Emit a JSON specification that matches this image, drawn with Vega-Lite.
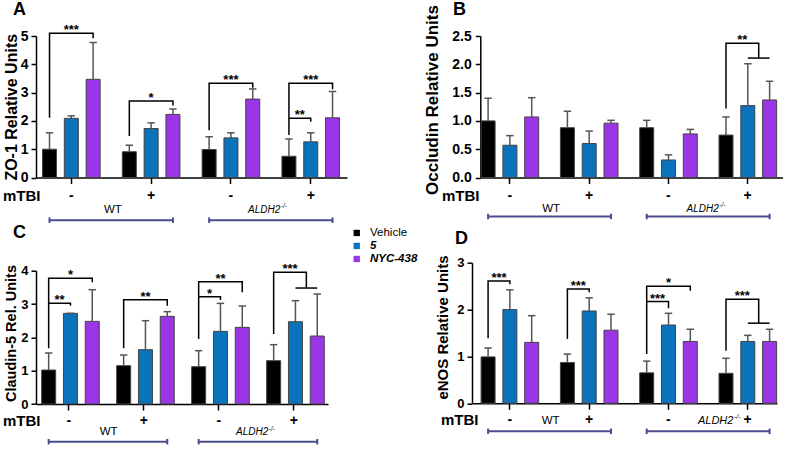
{
"$schema": "https://vega.github.io/schema/vega-lite/v6.json",
"background": "white",
"padding": {"left": 2, "top": 1, "right": 0, "bottom": 0},
"columns": 2,
"bounds": "flush",
"spacing": {"row": 84.7, "column": 125},
"config": {"font": "Liberation Sans", "view": {"stroke": null},
 "axis": {"domainColor": "black", "tickColor": "black", "labelColor": "black", "titleColor": "black", "grid": false, "labelFont": "Liberation Sans", "titleFont": "Liberation Sans", "domainWidth": 1.5, "tickWidth": 1.5, "labelOverlap": false},
 "title": {"font": "Liberation Sans", "fontSize": 18, "fontWeight": "bold", "color": "black", "anchor": "start", "frame": "group"}},
"concat": [
{
 "width": 311, "height": 141.5,
 "title": {"text": "A", "dx": -23, "dy": -3, "offset": 2},
 "resolve": {"axis": {"x": "independent", "y": "independent"}},
 "data": {"values": [
  {"g": "WT -", "t": "Vehicle", "mean": 1.0, "upper": 1.58},
  {"g": "WT -", "t": "5", "mean": 2.09, "upper": 2.18},
  {"g": "WT -", "t": "NYC-438", "mean": 3.47, "upper": 4.77},
  {"g": "WT +", "t": "Vehicle", "mean": 0.91, "upper": 1.14},
  {"g": "WT +", "t": "5", "mean": 1.73, "upper": 1.93},
  {"g": "WT +", "t": "NYC-438", "mean": 2.23, "upper": 2.42},
  {"g": "ALDH2 -", "t": "Vehicle", "mean": 0.99, "upper": 1.44},
  {"g": "ALDH2 -", "t": "5", "mean": 1.40, "upper": 1.58},
  {"g": "ALDH2 -", "t": "NYC-438", "mean": 2.77, "upper": 3.13},
  {"g": "ALDH2 +", "t": "Vehicle", "mean": 0.75, "upper": 1.36},
  {"g": "ALDH2 +", "t": "5", "mean": 1.26, "upper": 1.58},
  {"g": "ALDH2 +", "t": "NYC-438", "mean": 2.11, "upper": 3.04}
 ]},
 "layer": [
  {"mark": {"type": "bar", "width": 14, "stroke": "#444444", "strokeWidth": 1},
   "encoding": {
    "x": {"field": "g", "type": "nominal", "sort": null,
     "scale": {"domain": ["WT -", "WT +", "ALDH2 -", "ALDH2 +"], "paddingInner": 0.3, "paddingOuter": 0.0985, "align": 0.47},
     "axis": {"orient": "bottom", "title": "mTBI", "titleX": 4, "titleY": 18, "titleAlign": "right", "titleBaseline": "middle", "titleFontSize": 15, "titleFontWeight": "bold", "labelExpr": "slice(datum.value, -1)", "labelAngle": 0, "labelFontSize": 14, "labelFontWeight": "bold", "labelBaseline": "middle", "labelPadding": 12, "tickSize": 6}},
    "xOffset": {"field": "t", "type": "nominal", "scale": {"domain": ["Vehicle", "Vehicle+", "Vehicle|5", "5-", "5", "5+", "5|NYC-438", "NYC-438-", "NYC-438"], "paddingInner": 0, "paddingOuter": 0.625}},
    "y": {"field": "mean", "type": "quantitative", "scale": {"domain": [0, 5], "nice": false},
     "axis": {"orient": "left", "title": "ZO-1 Relative Units", "values": [0, 1, 2, 3, 4, 5], "labelOverlap": false, "labelFontSize": 14, "labelFontWeight": "bold", "titleFontSize": 16, "titleFontWeight": "bold", "tickSize": 5, "labelPadding": 3, "titlePadding": 1}},
    "color": {"field": "t", "type": "nominal", "scale": {"domain": ["Vehicle", "5", "NYC-438"], "range": ["#000000", "#0B72BC", "#9A35E8"]},
     "legend": {"orient": "none", "legendX": 315, "legendY": 191.2, "title": null, "symbolType": "square", "symbolSize": 40, "symbolStrokeWidth": 0, "labelFontSize": 11.5, "labelFont": "Liberation Sans", "labelOffset": 7.5, "rowPadding": 0, "padding": 0, "labelColor": "black",
      "labelFontStyle": {"expr": "datum.label == 'Vehicle' ? 'normal' : 'italic'"},
      "labelFontWeight": {"expr": "datum.label == 'Vehicle' ? 'normal' : 'bold'"}}}
   }},
  {"mark": {"type": "rule", "color": "#555555", "strokeWidth": 1.5},
   "encoding": {"x": {"field": "g", "type": "nominal", "axis": null}, "xOffset": {"field": "t", "type": "nominal"},
    "y": {"field": "mean", "type": "quantitative", "axis": null}, "y2": {"field": "upper"}}},
  {"mark": {"type": "point", "shape": "stroke", "size": 55, "color": "#555555", "strokeWidth": 1.5, "filled": false, "opacity": 1},
   "encoding": {"x": {"field": "g", "type": "nominal", "axis": null}, "xOffset": {"field": "t", "type": "nominal"},
    "y": {"field": "upper", "type": "quantitative", "axis": null}}},
  {"data": {"values": [
    {"id": "a1", "o": 1, "g": "WT -", "at": "Vehicle", "y": 2.11},
    {"id": "a1", "o": 2, "g": "WT -", "at": "Vehicle", "y": 5.10},
    {"id": "a1", "o": 3, "g": "WT -", "at": "NYC-438", "y": 5.10},
    {"id": "a1", "o": 4, "g": "WT -", "at": "NYC-438", "y": 4.92},
    {"id": "a2", "o": 1, "g": "WT +", "at": "Vehicle", "y": 1.47},
    {"id": "a2", "o": 2, "g": "WT +", "at": "Vehicle", "y": 2.70},
    {"id": "a2", "o": 3, "g": "WT +", "at": "NYC-438", "y": 2.70},
    {"id": "a2", "o": 4, "g": "WT +", "at": "NYC-438", "y": 2.54},
    {"id": "a3", "o": 1, "g": "ALDH2 -", "at": "Vehicle", "y": 1.67},
    {"id": "a3", "o": 2, "g": "ALDH2 -", "at": "Vehicle", "y": 3.33},
    {"id": "a3", "o": 3, "g": "ALDH2 -", "at": "NYC-438", "y": 3.33},
    {"id": "a3", "o": 4, "g": "ALDH2 -", "at": "NYC-438", "y": 3.17},
    {"id": "a4", "o": 1, "g": "ALDH2 +", "at": "Vehicle", "y": 1.50},
    {"id": "a4", "o": 2, "g": "ALDH2 +", "at": "Vehicle", "y": 3.33},
    {"id": "a4", "o": 3, "g": "ALDH2 +", "at": "NYC-438", "y": 3.33},
    {"id": "a4", "o": 4, "g": "ALDH2 +", "at": "NYC-438", "y": 3.12},
    {"id": "a5", "o": 1, "g": "ALDH2 +", "at": "Vehicle", "y": 2.09},
    {"id": "a5", "o": 2, "g": "ALDH2 +", "at": "5", "y": 2.09},
    {"id": "a5", "o": 3, "g": "ALDH2 +", "at": "5", "y": 1.97}
   ]},
   "mark": {"type": "line", "color": "black", "strokeWidth": 1.5},
   "encoding": {"x": {"field": "g", "type": "nominal", "axis": null}, "xOffset": {"field": "at", "type": "nominal"},
    "y": {"field": "y", "type": "quantitative", "axis": null}, "detail": {"field": "id"}, "order": {"field": "o", "type": "quantitative"}}},
  {"data": {"values": [
    {"g": "WT -", "at": "5", "y": 5.10, "label": "***"},
    {"g": "WT +", "at": "5", "y": 2.70, "label": "*"},
    {"g": "ALDH2 -", "at": "5", "y": 3.33, "label": "***"},
    {"g": "ALDH2 +", "at": "5", "y": 3.33, "label": "***"},
    {"g": "ALDH2 +", "at": "Vehicle|5", "y": 2.09, "label": "**"}
   ]},
   "mark": {"type": "text", "fontSize": 13, "fontWeight": "bold", "baseline": "alphabetic", "dy": 1, "color": "black"},
   "encoding": {"x": {"field": "g", "type": "nominal", "axis": null}, "xOffset": {"field": "at", "type": "nominal"},
    "y": {"field": "y", "type": "quantitative", "axis": null}, "text": {"field": "label"}}},
  {"data": {"values": [
    {"id": "WT", "g": "WT -", "at": "Vehicle"}, {"id": "WT", "g": "WT +", "at": "NYC-438"},
    {"id": "KO", "g": "ALDH2 -", "at": "Vehicle"}, {"id": "KO", "g": "ALDH2 +", "at": "NYC-438"}
   ]},
   "mark": {"type": "line", "color": "#4B4B8F", "strokeWidth": 2, "yOffset": 42.7},
   "encoding": {"x": {"field": "g", "type": "nominal", "axis": null}, "xOffset": {"field": "at", "type": "nominal"},
    "y": {"datum": 0, "type": "quantitative", "axis": null}, "detail": {"field": "id"}}},
  {"data": {"values": [
    {"id": "WT", "g": "WT -", "at": "Vehicle"}, {"id": "WT", "g": "WT +", "at": "NYC-438"},
    {"id": "KO", "g": "ALDH2 -", "at": "Vehicle"}, {"id": "KO", "g": "ALDH2 +", "at": "NYC-438"}
   ]},
   "mark": {"type": "point", "shape": "M0,-1L0,1", "size": 30, "color": "#4B4B8F", "strokeWidth": 2, "filled": false, "opacity": 1, "yOffset": 42.7},
   "encoding": {"x": {"field": "g", "type": "nominal", "axis": null}, "xOffset": {"field": "at", "type": "nominal"},
    "y": {"datum": 0, "type": "quantitative", "axis": null}}},
  {"data": {"values": [{"g": "WT +", "at": "Vehicle", "label": "WT"}]},
   "mark": {"type": "text", "fontSize": 11.5, "dx": -16.5, "dy": 32, "baseline": "middle", "color": "black"},
   "encoding": {"x": {"field": "g", "type": "nominal", "axis": null}, "xOffset": {"field": "at", "type": "nominal"}, "y": {"datum": 0, "type": "quantitative", "axis": null}, "text": {"field": "label"}}},
  {"data": {"values": [{"g": "ALDH2 +", "at": "Vehicle", "label": "ALDH2"}]},
   "mark": {"type": "text", "fontSize": 10, "fontStyle": "italic", "align": "right", "dx": -8.6, "dy": 32, "baseline": "middle", "color": "black"},
   "encoding": {"x": {"field": "g", "type": "nominal", "axis": null}, "xOffset": {"field": "at", "type": "nominal"}, "y": {"datum": 0, "type": "quantitative", "axis": null}, "text": {"field": "label"}}},
  {"data": {"values": [{"g": "ALDH2 +", "at": "Vehicle", "label": "-/-"}]},
   "mark": {"type": "text", "fontSize": 6.5, "fontStyle": "italic", "align": "left", "dx": -8.1, "dy": 28.5, "baseline": "middle", "color": "black"},
   "encoding": {"x": {"field": "g", "type": "nominal", "axis": null}, "xOffset": {"field": "at", "type": "nominal"}, "y": {"datum": 0, "type": "quantitative", "axis": null}, "text": {"field": "label"}}}
 ]
},
{
 "width": 311, "height": 141.5,
 "title": {"text": "B", "dx": -19, "dy": 16.5, "offset": 2},
 "resolve": {"axis": {"x": "independent", "y": "independent"}},
 "data": {"values": [
  {"g": "WT -", "t": "Vehicle", "mean": 1.00, "upper": 1.40},
  {"g": "WT -", "t": "5", "mean": 0.57, "upper": 0.74},
  {"g": "WT -", "t": "NYC-438", "mean": 1.07, "upper": 1.41},
  {"g": "WT +", "t": "Vehicle", "mean": 0.88, "upper": 1.17},
  {"g": "WT +", "t": "5", "mean": 0.60, "upper": 0.82},
  {"g": "WT +", "t": "NYC-438", "mean": 0.96, "upper": 1.01},
  {"g": "ALDH2 -", "t": "Vehicle", "mean": 0.88, "upper": 1.01},
  {"g": "ALDH2 -", "t": "5", "mean": 0.31, "upper": 0.40},
  {"g": "ALDH2 -", "t": "NYC-438", "mean": 0.77, "upper": 0.85},
  {"g": "ALDH2 +", "t": "Vehicle", "mean": 0.75, "upper": 1.07},
  {"g": "ALDH2 +", "t": "5", "mean": 1.27, "upper": 2.01},
  {"g": "ALDH2 +", "t": "NYC-438", "mean": 1.37, "upper": 1.70}
 ]},
 "layer": [
  {"mark": {"type": "bar", "width": 14, "stroke": "#444444", "strokeWidth": 1},
   "encoding": {
    "x": {"field": "g", "type": "nominal", "sort": null,
     "scale": {"domain": ["WT -", "WT +", "ALDH2 -", "ALDH2 +"], "range": [8.3, 311], "paddingInner": 0.3, "paddingOuter": 0.0585, "align": 0.18},
     "axis": {"orient": "bottom", "title": "mTBI", "titleX": 7, "titleY": 17.5, "titleAlign": "right", "titleBaseline": "middle", "titleFontSize": 15, "titleFontWeight": "bold", "labelExpr": "slice(datum.value, -1)", "labelAngle": 0, "labelFontSize": 14, "labelFontWeight": "bold", "labelBaseline": "middle", "labelPadding": 11.5, "tickSize": 6}},
    "xOffset": {"field": "t", "type": "nominal", "scale": {"domain": ["Vehicle", "Vehicle+", "Vehicle|5", "5-", "5", "5+", "5|NYC-438", "NYC-438-", "NYC-438"], "paddingInner": 0, "paddingOuter": 0.615}},
    "y": {"field": "mean", "type": "quantitative", "scale": {"domain": [0, 2.5], "nice": false},
     "axis": {"orient": "left", "title": "Occludin Relative Units", "titleY": 63.5, "values": [0, 0.5, 1, 1.5, 2, 2.5], "labelOverlap": false, "format": ".1f", "offset": -8.3, "labelFontSize": 14, "labelFontWeight": "bold", "titleFontSize": 17, "titleFontWeight": "bold", "tickSize": 5, "labelPadding": 4, "titlePadding": 10}},
    "color": {"field": "t", "type": "nominal", "scale": {"domain": ["Vehicle", "5", "NYC-438"], "range": ["#000000", "#0B72BC", "#9A35E8"]}, "legend": null}
   }},
  {"mark": {"type": "rule", "color": "#555555", "strokeWidth": 1.5},
   "encoding": {"x": {"field": "g", "type": "nominal", "axis": null}, "xOffset": {"field": "t", "type": "nominal"},
    "y": {"field": "mean", "type": "quantitative", "axis": null}, "y2": {"field": "upper"}}},
  {"mark": {"type": "point", "shape": "stroke", "size": 55, "color": "#555555", "strokeWidth": 1.5, "filled": false, "opacity": 1},
   "encoding": {"x": {"field": "g", "type": "nominal", "axis": null}, "xOffset": {"field": "t", "type": "nominal"},
    "y": {"field": "upper", "type": "quantitative", "axis": null}}},
  {"data": {"values": [
    {"id": "b1", "o": 1, "g": "ALDH2 +", "at": "Vehicle", "y": 1.22},
    {"id": "b1", "o": 2, "g": "ALDH2 +", "at": "Vehicle", "y": 2.37},
    {"id": "b1", "o": 3, "g": "ALDH2 +", "at": "5|NYC-438", "y": 2.37},
    {"id": "b1", "o": 4, "g": "ALDH2 +", "at": "5|NYC-438", "y": 2.11},
    {"id": "b2", "o": 1, "g": "ALDH2 +", "at": "5", "y": 2.11},
    {"id": "b2", "o": 2, "g": "ALDH2 +", "at": "NYC-438", "y": 2.11}
   ]},
   "mark": {"type": "line", "color": "black", "strokeWidth": 1.5},
   "encoding": {"x": {"field": "g", "type": "nominal", "axis": null}, "xOffset": {"field": "at", "type": "nominal"},
    "y": {"field": "y", "type": "quantitative", "axis": null}, "detail": {"field": "id"}, "order": {"field": "o", "type": "quantitative"}}},
  {"data": {"values": [
    {"g": "ALDH2 +", "at": "5-", "y": 2.37, "label": "**"}
   ]},
   "mark": {"type": "text", "fontSize": 13, "fontWeight": "bold", "baseline": "alphabetic", "dy": 1, "color": "black"},
   "encoding": {"x": {"field": "g", "type": "nominal", "axis": null}, "xOffset": {"field": "at", "type": "nominal"},
    "y": {"field": "y", "type": "quantitative", "axis": null}, "text": {"field": "label"}}},
  {"data": {"values": [
    {"id": "WT", "g": "WT -", "at": "Vehicle"}, {"id": "WT", "g": "WT +", "at": "NYC-438"},
    {"id": "KO", "g": "ALDH2 -", "at": "Vehicle"}, {"id": "KO", "g": "ALDH2 +", "at": "NYC-438"}
   ]},
   "mark": {"type": "line", "color": "#4B4B8F", "strokeWidth": 2, "yOffset": 39},
   "encoding": {"x": {"field": "g", "type": "nominal", "axis": null}, "xOffset": {"field": "at", "type": "nominal"},
    "y": {"datum": 0, "type": "quantitative", "axis": null}, "detail": {"field": "id"}}},
  {"data": {"values": [
    {"id": "WT", "g": "WT -", "at": "Vehicle"}, {"id": "WT", "g": "WT +", "at": "NYC-438"},
    {"id": "KO", "g": "ALDH2 -", "at": "Vehicle"}, {"id": "KO", "g": "ALDH2 +", "at": "NYC-438"}
   ]},
   "mark": {"type": "point", "shape": "M0,-1L0,1", "size": 30, "color": "#4B4B8F", "strokeWidth": 2, "filled": false, "opacity": 1, "yOffset": 39},
   "encoding": {"x": {"field": "g", "type": "nominal", "axis": null}, "xOffset": {"field": "at", "type": "nominal"},
    "y": {"datum": 0, "type": "quantitative", "axis": null}}},
  {"data": {"values": [{"g": "WT +", "at": "Vehicle", "label": "WT"}]},
   "mark": {"type": "text", "fontSize": 11.5, "dx": -16.3, "dy": 31, "baseline": "middle", "color": "black"},
   "encoding": {"x": {"field": "g", "type": "nominal", "axis": null}, "xOffset": {"field": "at", "type": "nominal"}, "y": {"datum": 0, "type": "quantitative", "axis": null}, "text": {"field": "label"}}},
  {"data": {"values": [{"g": "ALDH2 +", "at": "Vehicle", "label": "ALDH2"}]},
   "mark": {"type": "text", "fontSize": 10, "fontStyle": "italic", "align": "right", "dx": -7.3, "dy": 31, "baseline": "middle", "color": "black"},
   "encoding": {"x": {"field": "g", "type": "nominal", "axis": null}, "xOffset": {"field": "at", "type": "nominal"}, "y": {"datum": 0, "type": "quantitative", "axis": null}, "text": {"field": "label"}}},
  {"data": {"values": [{"g": "ALDH2 +", "at": "Vehicle", "label": "-/-"}]},
   "mark": {"type": "text", "fontSize": 6.5, "fontStyle": "italic", "align": "left", "dx": -6.8, "dy": 27.5, "baseline": "middle", "color": "black"},
   "encoding": {"x": {"field": "g", "type": "nominal", "axis": null}, "xOffset": {"field": "at", "type": "nominal"}, "y": {"datum": 0, "type": "quantitative", "axis": null}, "text": {"field": "label"}}}
 ]
},
{
 "width": 292, "height": 141.3,
 "title": {"text": "C", "dx": -23, "dy": -19.2, "offset": 2},
 "resolve": {"axis": {"x": "independent", "y": "independent"}},
 "data": {"values": [
  {"g": "WT -", "t": "Vehicle", "mean": 1.02, "upper": 1.53},
  {"g": "WT -", "t": "5", "mean": 2.72, "upper": 2.72},
  {"g": "WT -", "t": "NYC-438", "mean": 2.48, "upper": 3.43},
  {"g": "WT +", "t": "Vehicle", "mean": 1.15, "upper": 1.47},
  {"g": "WT +", "t": "5", "mean": 1.63, "upper": 2.50},
  {"g": "WT +", "t": "NYC-438", "mean": 2.63, "upper": 2.77},
  {"g": "ALDH2 -", "t": "Vehicle", "mean": 1.12, "upper": 1.60},
  {"g": "ALDH2 -", "t": "5", "mean": 2.18, "upper": 3.02},
  {"g": "ALDH2 -", "t": "NYC-438", "mean": 2.30, "upper": 2.94},
  {"g": "ALDH2 +", "t": "Vehicle", "mean": 1.30, "upper": 1.78},
  {"g": "ALDH2 +", "t": "5", "mean": 2.47, "upper": 3.10},
  {"g": "ALDH2 +", "t": "NYC-438", "mean": 2.04, "upper": 3.30}
 ]},
 "layer": [
  {"mark": {"type": "bar", "width": 14, "stroke": "#444444", "strokeWidth": 1},
   "encoding": {
    "x": {"field": "g", "type": "nominal", "sort": null,
     "scale": {"domain": ["WT -", "WT +", "ALDH2 -", "ALDH2 +"], "paddingInner": 0.3, "paddingOuter": 0.0967, "align": 0.45},
     "axis": {"orient": "bottom", "title": "mTBI", "titleX": 4, "titleY": 16.7, "titleAlign": "right", "titleBaseline": "middle", "titleFontSize": 15, "titleFontWeight": "bold", "labelExpr": "slice(datum.value, -1)", "labelAngle": 0, "labelFontSize": 14, "labelFontWeight": "bold", "labelBaseline": "middle", "labelPadding": 10.7, "tickSize": 6}},
    "xOffset": {"field": "t", "type": "nominal", "scale": {"domain": ["Vehicle", "Vehicle+", "Vehicle|5", "5-", "5", "5+", "5|NYC-438", "NYC-438-", "NYC-438"], "paddingInner": 0, "paddingOuter": 0.62}},
    "y": {"field": "mean", "type": "quantitative", "scale": {"domain": [0, 4], "nice": false, "range": [141.3, 8]},
     "axis": {"orient": "left", "title": "Claudin-5 Rel. Units", "titleY": 70.3, "values": [0, 1, 2, 3, 4], "labelOverlap": false, "labelFontSize": 13, "labelFontWeight": "bold", "titleFontSize": 14.5, "titleFontWeight": "bold", "tickSize": 5, "labelPadding": 3, "titlePadding": 2}},
    "color": {"field": "t", "type": "nominal", "scale": {"domain": ["Vehicle", "5", "NYC-438"], "range": ["#000000", "#0B72BC", "#9A35E8"]}, "legend": null}
   }},
  {"mark": {"type": "rule", "color": "#555555", "strokeWidth": 1.5},
   "encoding": {"x": {"field": "g", "type": "nominal", "axis": null}, "xOffset": {"field": "t", "type": "nominal"},
    "y": {"field": "mean", "type": "quantitative", "axis": null}, "y2": {"field": "upper"}}},
  {"mark": {"type": "point", "shape": "stroke", "size": 55, "color": "#555555", "strokeWidth": 1.5, "filled": false, "opacity": 1},
   "encoding": {"x": {"field": "g", "type": "nominal", "axis": null}, "xOffset": {"field": "t", "type": "nominal"},
    "y": {"field": "upper", "type": "quantitative", "axis": null}}},
  {"data": {"values": [
    {"id": "c1", "o": 1, "g": "WT -", "at": "Vehicle", "y": 1.67},
    {"id": "c1", "o": 2, "g": "WT -", "at": "Vehicle", "y": 3.77},
    {"id": "c1", "o": 3, "g": "WT -", "at": "NYC-438", "y": 3.77},
    {"id": "c1", "o": 4, "g": "WT -", "at": "NYC-438", "y": 3.65},
    {"id": "c2", "o": 1, "g": "WT -", "at": "Vehicle", "y": 3.02},
    {"id": "c2", "o": 2, "g": "WT -", "at": "5", "y": 3.02},
    {"id": "c2", "o": 3, "g": "WT -", "at": "5", "y": 2.95},
    {"id": "c3", "o": 1, "g": "WT +", "at": "Vehicle", "y": 1.67},
    {"id": "c3", "o": 2, "g": "WT +", "at": "Vehicle", "y": 3.13},
    {"id": "c3", "o": 3, "g": "WT +", "at": "NYC-438", "y": 3.13},
    {"id": "c3", "o": 4, "g": "WT +", "at": "NYC-438", "y": 2.95},
    {"id": "c4", "o": 1, "g": "ALDH2 -", "at": "Vehicle", "y": 1.95},
    {"id": "c4", "o": 2, "g": "ALDH2 -", "at": "Vehicle", "y": 3.67},
    {"id": "c4", "o": 3, "g": "ALDH2 -", "at": "NYC-438", "y": 3.67},
    {"id": "c4", "o": 4, "g": "ALDH2 -", "at": "NYC-438", "y": 3.35},
    {"id": "c5", "o": 1, "g": "ALDH2 -", "at": "Vehicle", "y": 3.22},
    {"id": "c5", "o": 2, "g": "ALDH2 -", "at": "5", "y": 3.22},
    {"id": "c5", "o": 3, "g": "ALDH2 -", "at": "5", "y": 3.12},
    {"id": "c6", "o": 1, "g": "ALDH2 +", "at": "Vehicle", "y": 2.10},
    {"id": "c6", "o": 2, "g": "ALDH2 +", "at": "Vehicle", "y": 3.95},
    {"id": "c6", "o": 3, "g": "ALDH2 +", "at": "5|NYC-438", "y": 3.95},
    {"id": "c6", "o": 4, "g": "ALDH2 +", "at": "5|NYC-438", "y": 3.48},
    {"id": "c7", "o": 1, "g": "ALDH2 +", "at": "5", "y": 3.48},
    {"id": "c7", "o": 2, "g": "ALDH2 +", "at": "NYC-438", "y": 3.48}
   ]},
   "mark": {"type": "line", "color": "black", "strokeWidth": 1.5},
   "encoding": {"x": {"field": "g", "type": "nominal", "axis": null}, "xOffset": {"field": "at", "type": "nominal"},
    "y": {"field": "y", "type": "quantitative", "axis": null}, "detail": {"field": "id"}, "order": {"field": "o", "type": "quantitative"}}},
  {"data": {"values": [
    {"g": "WT -", "at": "5", "y": 3.77, "label": "*"},
    {"g": "WT -", "at": "Vehicle|5", "y": 3.02, "label": "**"},
    {"g": "WT +", "at": "5", "y": 3.13, "label": "**"},
    {"g": "ALDH2 -", "at": "5", "y": 3.67, "label": "**"},
    {"g": "ALDH2 -", "at": "Vehicle|5", "y": 3.22, "label": "*"},
    {"g": "ALDH2 +", "at": "5-", "y": 3.95, "label": "***"}
   ]},
   "mark": {"type": "text", "fontSize": 13, "fontWeight": "bold", "baseline": "alphabetic", "dy": 1, "color": "black"},
   "encoding": {"x": {"field": "g", "type": "nominal", "axis": null}, "xOffset": {"field": "at", "type": "nominal"},
    "y": {"field": "y", "type": "quantitative", "axis": null}, "text": {"field": "label"}}},
  {"data": {"values": [
    {"id": "WT", "g": "WT -", "at": "Vehicle"}, {"id": "WT", "g": "WT +", "at": "NYC-438"},
    {"id": "KO", "g": "ALDH2 -", "at": "Vehicle"}, {"id": "KO", "g": "ALDH2 +", "at": "NYC-438"}
   ]},
   "mark": {"type": "line", "color": "#4B4B8F", "strokeWidth": 2, "yOffset": 37.7},
   "encoding": {"x": {"field": "g", "type": "nominal", "axis": null}, "xOffset": {"field": "at", "type": "nominal"},
    "y": {"datum": 0, "type": "quantitative", "axis": null}, "detail": {"field": "id"}}},
  {"data": {"values": [
    {"id": "WT", "g": "WT -", "at": "Vehicle"}, {"id": "WT", "g": "WT +", "at": "NYC-438"},
    {"id": "KO", "g": "ALDH2 -", "at": "Vehicle"}, {"id": "KO", "g": "ALDH2 +", "at": "NYC-438"}
   ]},
   "mark": {"type": "point", "shape": "M0,-1L0,1", "size": 30, "color": "#4B4B8F", "strokeWidth": 2, "filled": false, "opacity": 1, "yOffset": 37.7},
   "encoding": {"x": {"field": "g", "type": "nominal", "axis": null}, "xOffset": {"field": "at", "type": "nominal"},
    "y": {"datum": 0, "type": "quantitative", "axis": null}}},
  {"data": {"values": [{"g": "WT +", "at": "Vehicle", "label": "WT"}]},
   "mark": {"type": "text", "fontSize": 11.5, "dx": -15, "dy": 28.3, "baseline": "middle", "color": "black"},
   "encoding": {"x": {"field": "g", "type": "nominal", "axis": null}, "xOffset": {"field": "at", "type": "nominal"}, "y": {"datum": 0, "type": "quantitative", "axis": null}, "text": {"field": "label"}}},
  {"data": {"values": [{"g": "ALDH2 +", "at": "Vehicle", "label": "ALDH2"}]},
   "mark": {"type": "text", "fontSize": 10, "fontStyle": "italic", "align": "right", "dx": -5.3, "dy": 28.3, "baseline": "middle", "color": "black"},
   "encoding": {"x": {"field": "g", "type": "nominal", "axis": null}, "xOffset": {"field": "at", "type": "nominal"}, "y": {"datum": 0, "type": "quantitative", "axis": null}, "text": {"field": "label"}}},
  {"data": {"values": [{"g": "ALDH2 +", "at": "Vehicle", "label": "-/-"}]},
   "mark": {"type": "text", "fontSize": 6.5, "fontStyle": "italic", "align": "left", "dx": -4.8, "dy": 24.8, "baseline": "middle", "color": "black"},
   "encoding": {"x": {"field": "g", "type": "nominal", "axis": null}, "xOffset": {"field": "at", "type": "nominal"}, "y": {"datum": 0, "type": "quantitative", "axis": null}, "text": {"field": "label"}}}
 ]
},
{
 "width": 305, "height": 140.6,
 "title": {"text": "D", "dx": -17, "dy": -5.2, "offset": 2},
 "resolve": {"axis": {"x": "independent", "y": "independent"}},
 "data": {"values": [
  {"g": "WT -", "t": "Vehicle", "mean": 0.99, "upper": 1.18},
  {"g": "WT -", "t": "5", "mean": 2.00, "upper": 2.42},
  {"g": "WT -", "t": "NYC-438", "mean": 1.30, "upper": 1.87},
  {"g": "WT +", "t": "Vehicle", "mean": 0.87, "upper": 1.05},
  {"g": "WT +", "t": "5", "mean": 1.97, "upper": 2.25},
  {"g": "WT +", "t": "NYC-438", "mean": 1.56, "upper": 1.90},
  {"g": "ALDH2 -", "t": "Vehicle", "mean": 0.65, "upper": 0.90},
  {"g": "ALDH2 -", "t": "5", "mean": 1.67, "upper": 1.92},
  {"g": "ALDH2 -", "t": "NYC-438", "mean": 1.32, "upper": 1.58},
  {"g": "ALDH2 +", "t": "Vehicle", "mean": 0.64, "upper": 0.96},
  {"g": "ALDH2 +", "t": "5", "mean": 1.32, "upper": 1.45},
  {"g": "ALDH2 +", "t": "NYC-438", "mean": 1.32, "upper": 1.58}
 ]},
 "layer": [
  {"mark": {"type": "bar", "width": 14, "stroke": "#444444", "strokeWidth": 1},
   "encoding": {
    "x": {"field": "g", "type": "nominal", "sort": null,
     "scale": {"domain": ["WT -", "WT +", "ALDH2 -", "ALDH2 +"], "paddingInner": 0.3, "paddingOuter": 0.073, "align": 0.86},
     "axis": {"orient": "bottom", "title": "mTBI", "titleX": 6, "titleY": 15.7, "titleAlign": "right", "titleBaseline": "middle", "titleFontSize": 15, "titleFontWeight": "bold", "labelExpr": "slice(datum.value, -1)", "labelAngle": 0, "labelFontSize": 14, "labelFontWeight": "bold", "labelBaseline": "middle", "labelPadding": 9.7, "tickSize": 6}},
    "xOffset": {"field": "t", "type": "nominal", "scale": {"domain": ["Vehicle", "Vehicle+", "Vehicle|5", "5-", "5", "5+", "5|NYC-438", "NYC-438-", "NYC-438"], "paddingInner": 0, "paddingOuter": 0.615}},
    "y": {"field": "mean", "type": "quantitative", "scale": {"domain": [0, 3], "nice": false},
     "axis": {"orient": "left", "title": "eNOS Relative Units", "titleY": 64.3, "values": [0, 1, 2, 3], "labelOverlap": false, "labelFontSize": 13, "labelFontWeight": "bold", "titleFontSize": 15, "titleFontWeight": "bold", "tickSize": 5, "labelPadding": 3, "titlePadding": 6}},
    "color": {"field": "t", "type": "nominal", "scale": {"domain": ["Vehicle", "5", "NYC-438"], "range": ["#000000", "#0B72BC", "#9A35E8"]}, "legend": null}
   }},
  {"mark": {"type": "rule", "color": "#555555", "strokeWidth": 1.5},
   "encoding": {"x": {"field": "g", "type": "nominal", "axis": null}, "xOffset": {"field": "t", "type": "nominal"},
    "y": {"field": "mean", "type": "quantitative", "axis": null}, "y2": {"field": "upper"}}},
  {"mark": {"type": "point", "shape": "stroke", "size": 55, "color": "#555555", "strokeWidth": 1.5, "filled": false, "opacity": 1},
   "encoding": {"x": {"field": "g", "type": "nominal", "axis": null}, "xOffset": {"field": "t", "type": "nominal"},
    "y": {"field": "upper", "type": "quantitative", "axis": null}}},
  {"data": {"values": [
    {"id": "d1", "o": 1, "g": "WT -", "at": "Vehicle", "y": 1.39},
    {"id": "d1", "o": 2, "g": "WT -", "at": "Vehicle", "y": 2.61},
    {"id": "d1", "o": 3, "g": "WT -", "at": "5", "y": 2.61},
    {"id": "d1", "o": 4, "g": "WT -", "at": "5", "y": 2.54},
    {"id": "d2", "o": 1, "g": "WT +", "at": "Vehicle", "y": 1.37},
    {"id": "d2", "o": 2, "g": "WT +", "at": "Vehicle", "y": 2.44},
    {"id": "d2", "o": 3, "g": "WT +", "at": "5", "y": 2.44},
    {"id": "d2", "o": 4, "g": "WT +", "at": "5", "y": 2.37},
    {"id": "d3", "o": 1, "g": "ALDH2 -", "at": "Vehicle", "y": 1.05},
    {"id": "d3", "o": 2, "g": "ALDH2 -", "at": "Vehicle", "y": 2.50},
    {"id": "d3", "o": 3, "g": "ALDH2 -", "at": "NYC-438", "y": 2.50},
    {"id": "d3", "o": 4, "g": "ALDH2 -", "at": "NYC-438", "y": 2.40},
    {"id": "d4", "o": 1, "g": "ALDH2 -", "at": "Vehicle", "y": 2.17},
    {"id": "d4", "o": 2, "g": "ALDH2 -", "at": "5", "y": 2.17},
    {"id": "d4", "o": 3, "g": "ALDH2 -", "at": "5", "y": 2.03},
    {"id": "d5", "o": 1, "g": "ALDH2 +", "at": "Vehicle", "y": 1.12},
    {"id": "d5", "o": 2, "g": "ALDH2 +", "at": "Vehicle", "y": 2.22},
    {"id": "d5", "o": 3, "g": "ALDH2 +", "at": "5|NYC-438", "y": 2.22},
    {"id": "d5", "o": 4, "g": "ALDH2 +", "at": "5|NYC-438", "y": 1.71},
    {"id": "d6", "o": 1, "g": "ALDH2 +", "at": "5", "y": 1.71},
    {"id": "d6", "o": 2, "g": "ALDH2 +", "at": "NYC-438", "y": 1.71}
   ]},
   "mark": {"type": "line", "color": "black", "strokeWidth": 1.5},
   "encoding": {"x": {"field": "g", "type": "nominal", "axis": null}, "xOffset": {"field": "at", "type": "nominal"},
    "y": {"field": "y", "type": "quantitative", "axis": null}, "detail": {"field": "id"}, "order": {"field": "o", "type": "quantitative"}}},
  {"data": {"values": [
    {"g": "WT -", "at": "Vehicle|5", "y": 2.61, "label": "***"},
    {"g": "WT +", "at": "Vehicle|5", "y": 2.44, "label": "***"},
    {"g": "ALDH2 -", "at": "5", "y": 2.50, "label": "*"},
    {"g": "ALDH2 -", "at": "Vehicle|5", "y": 2.17, "label": "***"},
    {"g": "ALDH2 +", "at": "5-", "y": 2.22, "label": "***"}
   ]},
   "mark": {"type": "text", "fontSize": 13, "fontWeight": "bold", "baseline": "alphabetic", "dy": 1, "color": "black"},
   "encoding": {"x": {"field": "g", "type": "nominal", "axis": null}, "xOffset": {"field": "at", "type": "nominal"},
    "y": {"field": "y", "type": "quantitative", "axis": null}, "text": {"field": "label"}}},
  {"data": {"values": [
    {"id": "WT", "g": "WT -", "at": "Vehicle"}, {"id": "WT", "g": "WT +", "at": "NYC-438"},
    {"id": "KO", "g": "ALDH2 -", "at": "Vehicle"}, {"id": "KO", "g": "ALDH2 +", "at": "NYC-438"}
   ]},
   "mark": {"type": "line", "color": "#4B4B8F", "strokeWidth": 2, "yOffset": 28},
   "encoding": {"x": {"field": "g", "type": "nominal", "axis": null}, "xOffset": {"field": "at", "type": "nominal"},
    "y": {"datum": 0, "type": "quantitative", "axis": null}, "detail": {"field": "id"}}},
  {"data": {"values": [
    {"id": "WT", "g": "WT -", "at": "Vehicle"}, {"id": "WT", "g": "WT +", "at": "NYC-438"},
    {"id": "KO", "g": "ALDH2 -", "at": "Vehicle"}, {"id": "KO", "g": "ALDH2 +", "at": "NYC-438"}
   ]},
   "mark": {"type": "point", "shape": "M0,-1L0,1", "size": 30, "color": "#4B4B8F", "strokeWidth": 2, "filled": false, "opacity": 1, "yOffset": 28},
   "encoding": {"x": {"field": "g", "type": "nominal", "axis": null}, "xOffset": {"field": "at", "type": "nominal"},
    "y": {"datum": 0, "type": "quantitative", "axis": null}}},
  {"data": {"values": [{"g": "WT +", "at": "Vehicle", "label": "WT"}]},
   "mark": {"type": "text", "fontSize": 11.5, "dx": -16.8, "dy": 17.3, "baseline": "middle", "color": "black"},
   "encoding": {"x": {"field": "g", "type": "nominal", "axis": null}, "xOffset": {"field": "at", "type": "nominal"}, "y": {"datum": 0, "type": "quantitative", "axis": null}, "text": {"field": "label"}}},
  {"data": {"values": [{"g": "ALDH2 +", "at": "Vehicle", "label": "ALDH2"}]},
   "mark": {"type": "text", "fontSize": 11, "fontStyle": "italic", "align": "right", "dx": 7.4, "dy": 17.3, "baseline": "middle", "color": "black"},
   "encoding": {"x": {"field": "g", "type": "nominal", "axis": null}, "xOffset": {"field": "at", "type": "nominal"}, "y": {"datum": 0, "type": "quantitative", "axis": null}, "text": {"field": "label"}}},
  {"data": {"values": [{"g": "ALDH2 +", "at": "Vehicle", "label": "-/-"}]},
   "mark": {"type": "text", "fontSize": 7, "fontStyle": "italic", "align": "left", "dx": 7.9, "dy": 13.5, "baseline": "middle", "color": "black"},
   "encoding": {"x": {"field": "g", "type": "nominal", "axis": null}, "xOffset": {"field": "at", "type": "nominal"}, "y": {"datum": 0, "type": "quantitative", "axis": null}, "text": {"field": "label"}}}
 ]
}
]
}
